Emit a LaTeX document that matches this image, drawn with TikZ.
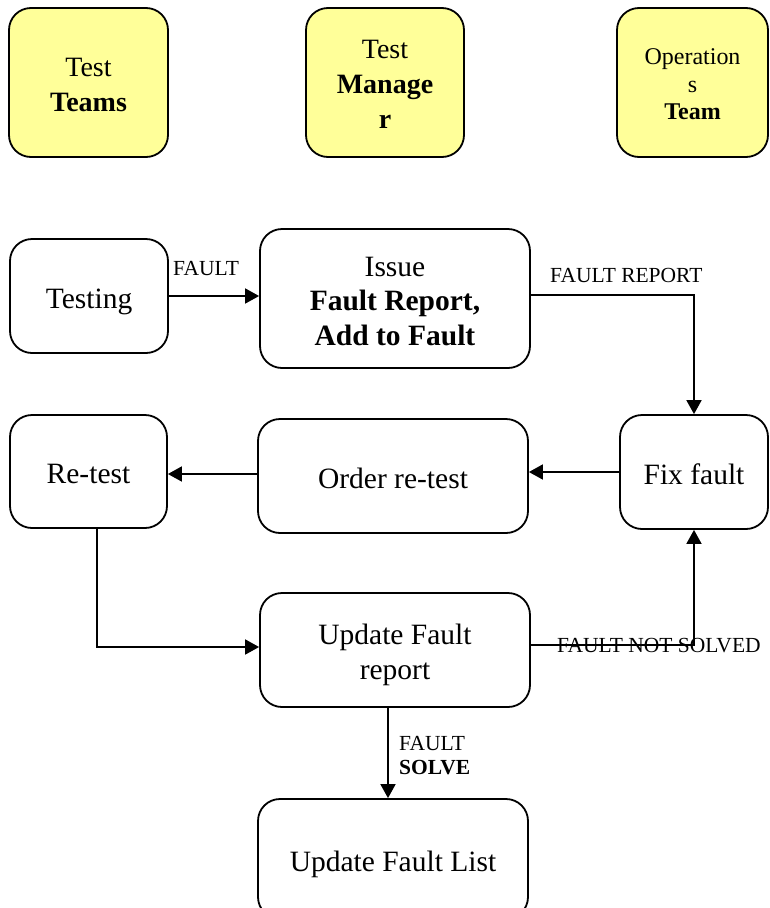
\documentclass[tikz,border=0pt]{standalone}
\usepackage{fontspec}
\setmainfont{Liberation Serif}
\usetikzlibrary{arrows.meta}
\definecolor{roleyellow}{HTML}{FFFF99}
% invisible struts: full ascent on the first line, descent on the last
\newcommand\ls{\rule[-0.22em]{0pt}{1.26em}}
\newcommand\lz{\rule[-0.22em]{0pt}{0.22em}}
\begin{document}
\begin{tikzpicture}[x=1pt,y=-1pt,
  box/.style={draw,line width=1.8pt,rounded corners=22pt,inner sep=0pt,
    align=center,font=\fontsize{29.5}{34.5}\selectfont},
  role/.style={box,fill=roleyellow,font=\fontsize{28}{35}\selectfont},
  flow/.style={line width=1.8pt,-{Triangle[length=14pt,width=15pt]}},
  lbl/.style={font=\fontsize{21.5}{25}\selectfont,inner sep=0pt,anchor=base west}]
\useasboundingbox (0,0) rectangle (769,908);

% roles
\node[role,minimum width=159pt,minimum height=149pt] (teams) at (88.5,82.5)
  {\ls Test\\\textbf{Teams}\lz};
\node[role,minimum width=158pt,minimum height=149pt] (manager) at (385,82.5)
  {\ls Test\\\textbf{Manage}\\\textbf{r}\lz};
\node[role,font=\fontsize{24}{27.5}\selectfont,minimum width=151pt,minimum height=149pt]
  (ops) at (692.5,82.5) {\ls Operation\\s\\\textbf{Team}\lz};

% process steps
\node[box,minimum width=158pt,minimum height=114pt] (testing) at (89,296) {\ls Testing};
\node[box,minimum width=270pt,minimum height=139pt] (issue) at (395,298.5)
  {\ls Issue\\\textbf{Fault Report,}\\\textbf{Add to Fault}\lz};
\node[box,minimum width=148pt,minimum height=114pt] (fixfault) at (694,472) {\ls Fix fault};
\node[box,minimum width=270pt,minimum height=114pt] (order) at (393,476) {\ls Order re-test};
\node[box,minimum width=157pt,minimum height=113pt] (retest) at (88.5,471.5) {\ls Re-test};
\node[box,minimum width=270pt,minimum height=114pt] (update) at (395,650)
  {\ls Update Fault\\report\lz};
\node[box,minimum width=270pt,minimum height=120pt] (list) at (393,859)
  {\ls Update Fault List};

% flow
\draw[flow] (testing.east) -- (testing.east -| issue.west);
\draw[flow] ([yshift=3.5pt]issue.east) -| (fixfault.north);
\draw[flow] (fixfault.west) -- (fixfault.west -| order.east);
\draw[flow] ([yshift=2pt]order.west) -- ([yshift=2pt]order.west -| retest.east);
\draw[flow] ([xshift=8.5pt]retest.south) |- ([yshift=3pt]update.west);
\draw[flow] ([yshift=5pt]update.east) -| (fixfault.south);
\draw[flow] ([xshift=-7pt]update.south) -- ([xshift=-7pt]update.south |- list.north);

% labels
\node[lbl] (lfault) at (173,275) {FAULT};
\node[lbl] (lreport) at (550,282) {FAULT REPORT};
\node[lbl] (lnotsolved) at (557,652) {FAULT NOT SOLVED};
\node[lbl] (lsolved) at (399,750) {FAULT};
\node[lbl,font=\fontsize{21.5}{25}\selectfont\bfseries] (lsolve) at (399,774) {SOLVE};
\end{tikzpicture}
\end{document}
